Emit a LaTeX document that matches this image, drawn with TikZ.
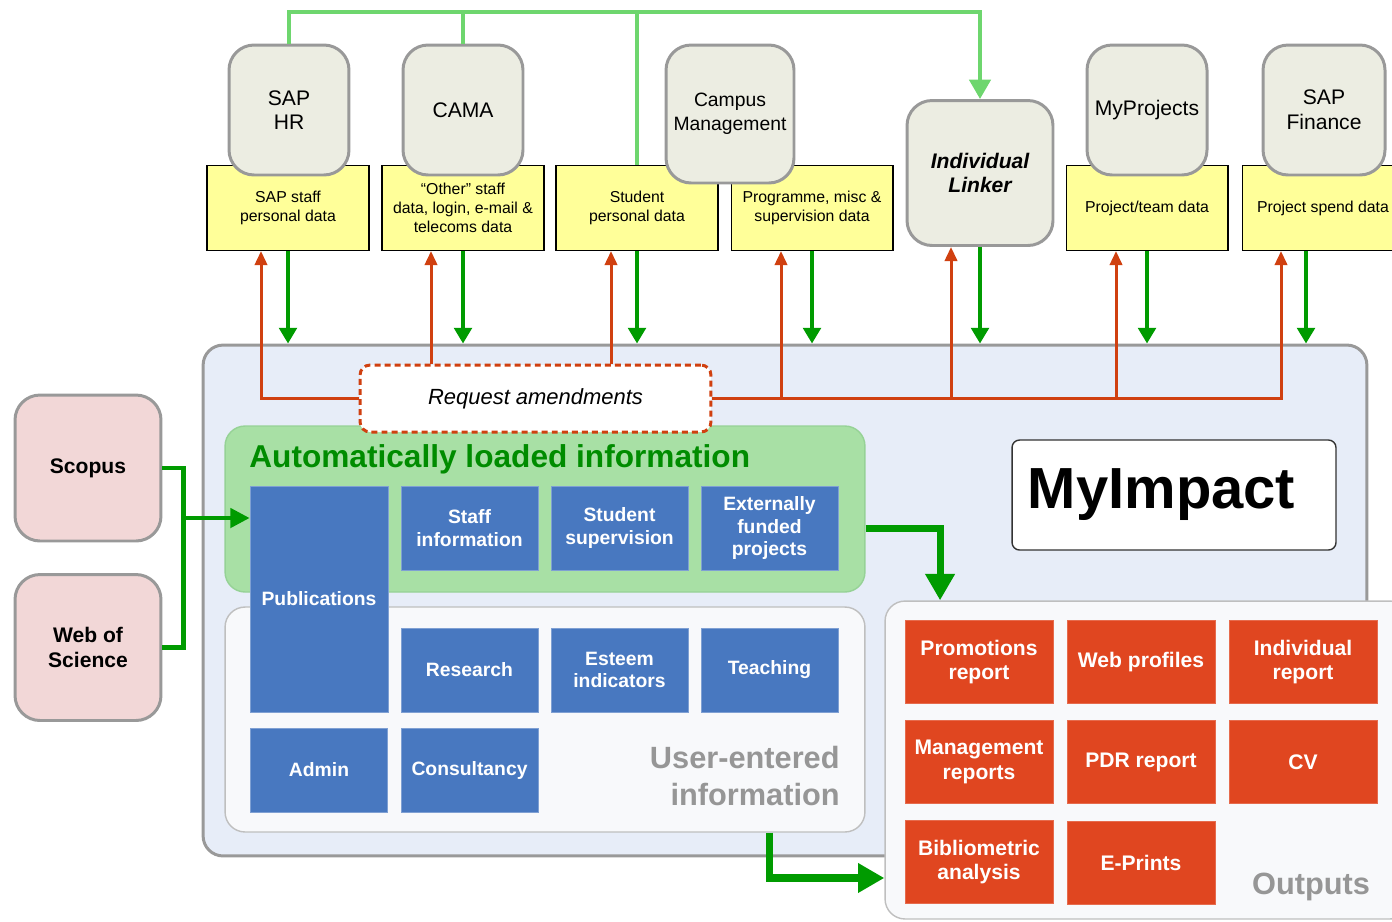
\documentclass[tikz,border=0pt]{standalone}
\usepackage{fontspec}
\setmainfont{Liberation Sans}
\usetikzlibrary{shapes,arrows.meta,positioning}

\definecolor{sysfill}{RGB}{236,237,226}
\definecolor{boxgray}{RGB}{153,153,153}
\definecolor{datayellow}{RGB}{255,255,153}
\definecolor{busgreen}{RGB}{110,214,110}
\definecolor{feedgreen}{RGB}{0,155,0}
\definecolor{amendred}{RGB}{208,64,16}
\definecolor{mainfill}{RGB}{231,237,248}
\definecolor{autofill}{RGB}{168,224,165}
\definecolor{autoborder}{RGB}{150,210,150}
\definecolor{titlegreen}{RGB}{0,140,0}
\definecolor{userfill}{RGB}{248,249,251}
\definecolor{infoblue}{RGB}{72,120,192}
\definecolor{outred}{RGB}{224,70,32}
\definecolor{srcpink}{RGB}{242,215,215}
\definecolor{labelgray}{RGB}{150,150,150}

\tikzset{
  sysbox/.style={shape=rectangle, rounded corners=0.5cm, draw=boxgray, line width=1.7pt, fill=sysfill, align=center, font=\fontsize{12}{14}\selectfont, minimum width=2.4cm, minimum height=2.6cm},
  databox/.style={shape=rectangle, draw=black, line width=0.6pt, fill=datayellow, align=center, font=\fontsize{9}{11}\selectfont, minimum width=3.24cm, minimum height=1.7cm},
  srcbox/.style={shape=rectangle, rounded corners=0.5cm, draw=boxgray, line width=1.7pt, fill=srcpink, align=center, font=\bfseries\fontsize{12}{14}\selectfont, minimum width=2.92cm, minimum height=2.92cm},
  areabox/.style={shape=rectangle, rounded corners=0.4cm, line width=0.8pt},
  infobox/.style={shape=rectangle, draw=infoblue!70!white, line width=0.5pt, fill=infoblue, text=white, align=center, font=\bfseries\fontsize{11}{13}\selectfont, minimum width=2.74cm, minimum height=1.68cm},
  outbox/.style={shape=rectangle, draw=outred!80!white, line width=0.5pt, fill=outred, text=white, align=center, font=\bfseries\fontsize{12}{14}\selectfont, minimum width=2.96cm, minimum height=1.66cm},
  busline/.style={draw=busgreen, line width=2.3pt},
  feed/.style={draw=feedgreen, line width=2.8pt, -{Triangle[length=9pt,width=10pt]}},
  amend/.style={draw=amendred, line width=1.7pt, -{Triangle[length=8pt,width=7pt]}},
  bigfeed/.style={draw=feedgreen, line width=4pt, -{Triangle[length=15pt,width=16pt]}}
}

\begin{document}
\begin{tikzpicture}[x=0.02cm, y=-0.02cm]
\useasboundingbox (0,0) rectangle (1392,921);

% Data row
\node[databox] at (288,208) (staffdata) {SAP staff\\personal data};
\node[databox] at (463,208) (otherdata) {``Other'' staff\\data, login, e-mail \&\\telecoms data};
\node[databox] at (637,208) (studdata) {Student\\personal data};
\node[databox] at (812,208) (progdata) {Programme, misc \&\\supervision data};
\node[databox] at (1147,208) (teamdata) {Project/team data};
\node[databox] at (1323,208) (spenddata) {Project spend data};

% Source systems
\node[sysbox] at (289,110) (saphr) {SAP\\HR};
\node[sysbox] at (463,110) (cama) {CAMA};
\node[sysbox, minimum width=2.56cm, minimum height=2.76cm, font=\fontsize{11}{13.5}\selectfont] at (730,114) (campus) {Campus\\Management};
\node[sysbox, minimum width=2.92cm, minimum height=2.9cm, font=\bfseries\itshape\fontsize{12}{14}\selectfont] at (980,173) (linker) {Individual\\Linker};
\node[sysbox] at (1147,110) (myproj) {MyProjects};
\node[sysbox, minimum width=2.44cm] at (1324,110) (sapfin) {SAP\\Finance};

% Link bus
\coordinate (busend) at (980,12);
\draw[busline, -{Triangle[length=11pt,width=12pt]}] (saphr.north) |- (busend) -- (linker.north);
\draw[busline] (cama.north) -- (cama.north |- busend);
\draw[busline] (studdata.north) -- (studdata.north |- busend);

% MyImpact area
\node[areabox, draw=boxgray, line width=1.7pt, fill=mainfill, minimum width=23.28cm, minimum height=10.22cm] at (785,600.5) (myimpactarea) {};
\node[areabox, draw=autoborder, fill=autofill, minimum width=12.8cm, minimum height=3.32cm] at (545,509) (autoinfo) {};
\node[areabox, draw=black!25, fill=userfill, minimum width=12.8cm, minimum height=4.5cm] at (545,719.5) (userinfo) {};
\node[anchor=west, inner sep=0pt, text=titlegreen, font=\bfseries\fontsize{18}{22}\selectfont] at (249,459) (autotitle) {Automatically loaded information};

% Information blocks
\node[infobox, minimum width=2.76cm, minimum height=4.52cm] at (319,599) (publications) {Publications};
\node[infobox] at (469.5,528) (staffinfo) {Staff\\information};
\node[infobox] at (619.5,528) (studsup) {Student\\supervision};
\node[infobox] at (769.5,528) (extfund) {Externally\\funded\\projects};
\node[infobox] at (469.5,670) (research) {Research};
\node[infobox] at (619.5,670) (esteem) {Esteem\\indicators};
\node[infobox] at (769.5,670) (teaching) {Teaching};
\node[infobox] at (319,770) (admin) {Admin};
\node[infobox] at (469.5,770) (consult) {Consultancy};
\node[anchor=east, align=right, inner sep=0pt, text=labelgray, font=\bfseries\fontsize{17.5}{21.5}\selectfont] at (840,776) (userlabel) {User-entered\\information};

\node[shape=rectangle, rounded corners=0.15cm, draw=black!80, line width=0.8pt, fill=white, minimum width=6.48cm, minimum height=2.2cm, font=\bfseries\fontsize{33}{40}\selectfont] at (1174,495) (myimpact) {MyImpact\kern0.5cm};

% Outputs
\node[areabox, draw=black!25, fill=userfill, minimum width=10.5cm, minimum height=6.36cm] at (1147.5,760) (outputs) {};
\node[outbox] at (979,662) (promo) {Promotions\\report};
\node[outbox] at (1141,662) (webprof) {Web profiles};
\node[outbox] at (1303,662) (indiv) {Individual\\report};
\node[outbox] at (979,762) (mgmt) {Management\\reports};
\node[outbox] at (1141,762) (pdr) {PDR report};
\node[outbox] at (1303,762) (cv) {CV};
\node[outbox] at (979,862) (biblio) {Bibliometric\\analysis};
\node[outbox] at (1141,863) (eprints) {E-Prints};
\node[text=labelgray, font=\bfseries\fontsize{17.5}{21}\selectfont] at (1311,887) (outlabel) {Outputs};

% External sources
\node[srcbox] at (88,468) (scopus) {Scopus};
\node[srcbox] at (88,647.5) (wos) {Web of\\Science};
\draw[draw=feedgreen, line width=2.3pt] (scopus.east) -- ++(21,0) |- (wos.east);
\coordinate (srcjoin) at (182,518);
\draw[draw=feedgreen, line width=2.3pt, -{Triangle[length=11pt,width=11pt]}] (srcjoin) -- (srcjoin -| publications.west);

% Loading arrows
\draw[feed] (staffdata.south) -- (staffdata.south |- myimpactarea.north);
\draw[feed] (otherdata.south) -- (otherdata.south |- myimpactarea.north);
\draw[feed] (studdata.south) -- (studdata.south |- myimpactarea.north);
\draw[feed] (progdata.south) -- (progdata.south |- myimpactarea.north);
\draw[feed] (linker.south) -- (linker.south |- myimpactarea.north);
\draw[feed] (teamdata.south) -- (teamdata.south |- myimpactarea.north);
\draw[feed] ([xshift=-0.34cm]spenddata.south) -- ([xshift=-0.34cm]spenddata.south |- myimpactarea.north);

% Amendment requests
\node[shape=rectangle, rounded corners=0.2cm, draw=amendred, dash pattern=on 3.4pt off 2.3pt, line width=1.7pt, fill=white, minimum width=7.02cm, minimum height=1.34cm, font=\itshape\fontsize{12.5}{15}\selectfont] at (535.5,398.5) (request) {Request amendments};
\draw[amend] (request.west) -| ([xshift=-0.54cm]staffdata.south);
\draw[amend] ([xshift=-0.64cm]otherdata.south |- request.north) -- ([xshift=-0.64cm]otherdata.south);
\draw[amend] ([xshift=-0.52cm]studdata.south |- request.north) -- ([xshift=-0.52cm]studdata.south);
\draw[amend] (request.east) -| ([xshift=-0.84cm]spenddata.south);
\draw[amend] ([xshift=-0.62cm]progdata.south |- request.east) -- ([xshift=-0.62cm]progdata.south);
\draw[amend] ([xshift=-0.58cm]linker.south |- request.east) -- ([xshift=-0.58cm]linker.south);
\draw[amend] ([xshift=-0.62cm]teamdata.south |- request.east) -- ([xshift=-0.62cm]teamdata.south);

% To outputs
\draw[bigfeed] (staffinfo -| autoinfo.east) -| ([xshift=-4.15cm]outputs.north);
\draw[bigfeed] (teaching.south |- userinfo.south) |- ([yshift=-2.36cm]outputs.west);

\end{tikzpicture}
\end{document}
